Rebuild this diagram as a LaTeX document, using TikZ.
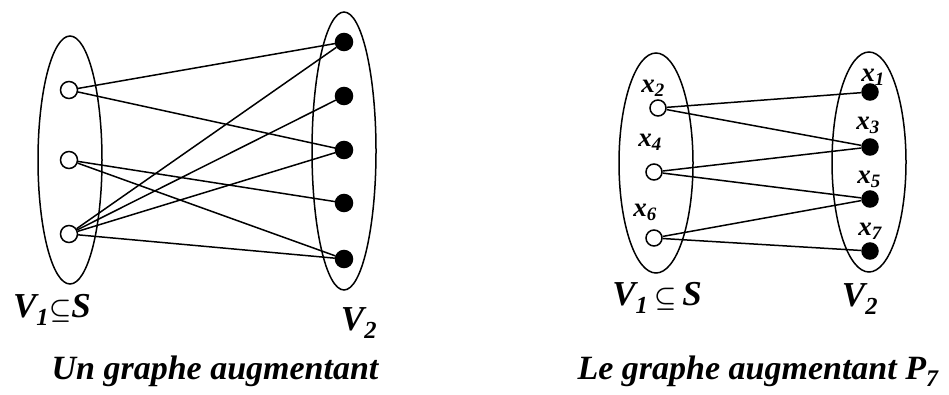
\documentclass[tikz,border=0pt]{standalone}
\usepackage{fontspec}
\setmainfont{Liberation Serif}
\usetikzlibrary{positioning}

\begin{document}
\begin{tikzpicture}[
    x=1pt, y=-1pt,
    line width=1.5pt,
    freenode/.style={
        circle,
        draw=black,
        fill=white,
        inner sep=0pt,
        minimum size=#1
    },
    freenode/.default=17pt,
    matchnode/.style={
        circle,
        draw=black,
        fill=black,
        inner sep=0pt,
        minimum size=#1
    },
    matchnode/.default=17pt,
    setlabel/.style={
        font=\fontsize{35}{38}\selectfont\bfseries\itshape\boldmath,
        inner sep=0pt
    },
    vxlabel/.style={
        font=\fontsize{27}{30}\selectfont\bfseries\itshape,
        inner sep=0pt
    },
    caption/.style={
        font=\fontsize{34}{38}\selectfont\bfseries\itshape,
        inner sep=0pt
    }
]
    \useasboundingbox (0,0) rectangle (949,394);

    % premier graphe
    \draw (70,160) ellipse [x radius=32, y radius=124];
    \draw (344,151) ellipse [x radius=32, y radius=139];

    \node[freenode] (a1) at (69,90) {};
    \node[freenode] (a2) at (69,160) {};
    \node[freenode] (a3) at (69,234) {};

    \node[matchnode] (b1) at (344,42) {};
    \node[matchnode] (b2) at (344,96) {};
    \node[matchnode] (b3) at (344,150) {};
    \node[matchnode] (b4) at (344,203) {};
    \node[matchnode] (b5) at (344,259) {};

    \draw (a1) -- (b1);
    \draw (a1) -- (b3);
    \draw (a2) -- (b4);
    \draw (a2) -- (b5);
    \draw (a3) -- (b1);
    \draw (a3) -- (b2);
    \draw (a3) -- (b3);
    \draw (a3) -- (b5);

    \node[setlabel] (s1) at (52,310) {V\textsubscript{1}$\subseteq$S};
    \node[setlabel] (s2) at (359,323) {V\textsubscript{2}};
    \node[caption] (cap1) at (215,371) {Un graphe augmentant};

    % second graphe
    \draw (656,163) ellipse [x radius=37, y radius=110];
    \draw (869,162) ellipse [x radius=37, y radius=110];

    \node[freenode=16pt] (x2) at (658,108) {};
    \node[freenode=16pt] (x4) at (654,172) {};
    \node[freenode=16pt] (x6) at (654,238) {};

    \node[matchnode=16pt] (x1) at (870,92) {};
    \node[matchnode=16pt] (x3) at (870,147) {};
    \node[matchnode=16pt] (x5) at (870,199) {};
    \node[matchnode=16pt] (x7) at (870,251) {};

    \draw (x2) -- (x1);
    \draw (x2) -- (x3);
    \draw (x4) -- (x3);
    \draw (x4) -- (x5);
    \draw (x6) -- (x5);
    \draw (x6) -- (x7);

    \node[vxlabel] (l2) at (653,88) {x\textsubscript{2}};
    \node[vxlabel] (l4) at (650,142) {x\textsubscript{4}};
    \node[vxlabel] (l6) at (645,212) {x\textsubscript{6}};
    \node[vxlabel] (l1) at (873,77) {x\textsubscript{1}};
    \node[vxlabel] (l3) at (868,125) {x\textsubscript{3}};
    \node[vxlabel] (l5) at (869,179) {x\textsubscript{5}};
    \node[vxlabel] (l7) at (870,231) {x\textsubscript{7}};

    \node[setlabel] (s3) at (657,298) {V\textsubscript{1}\,$\subseteq$\,S};
    \node[setlabel] (s4) at (860,299) {V\textsubscript{2}};
    \node[caption] (cap2) at (758,371) {Le graphe augmentant P\textsubscript{7}};

\end{tikzpicture}
\end{document}
